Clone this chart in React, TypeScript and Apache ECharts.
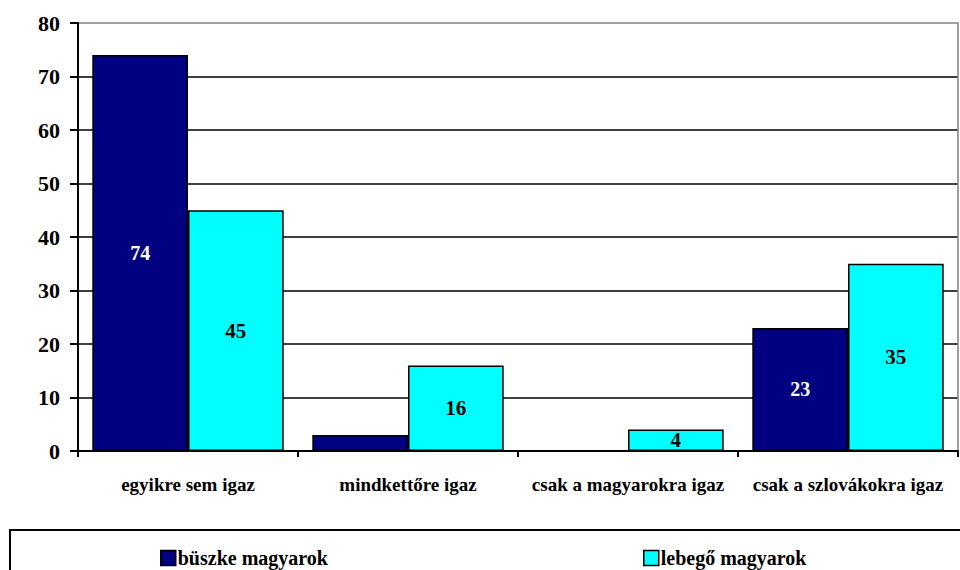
import React, { useEffect, useRef } from "react";
import * as echarts from "echarts";

const categories = ["egyikre sem igaz", "mindkettőre igaz", "csak a magyarokra igaz", "csak a szlovákokra igaz"];
const seriesNames = ["büszke magyarok", "lebegő magyarok"];
const buszke = [74, 3, 0, 23];
const lebego = [45, 16, 4, 35];
const yTicks = [0, 10, 20, 30, 40, 50, 60, 70, 80];

const FONT = "Liberation Serif, Times New Roman, serif";

export default function App() {
  const ref = useRef<HTMLDivElement>(null);
  useEffect(() => {
    if (!ref.current) return;
    const chart = echarts.init(ref.current, undefined, { renderer: "svg" });
    const gridColors = yTicks.map((t, i) => (i === yTicks.length - 1 ? "#808080" : "#000000"));
    const legendBase = {
      top: 543,
      itemWidth: 15,
      itemHeight: 15,
      itemGap: 4,
      icon: "rect",
      itemStyle: { borderColor: "#000", borderWidth: 1.5 },
      textStyle: { color: "#000", fontWeight: "bold", fontSize: 20, fontFamily: FONT, padding: [0, 0, 0, -3] },
    };
    chart.setOption({
      animation: false,
      backgroundColor: "#ffffff",
      textStyle: { fontFamily: FONT },
      grid: { left: 78, right: 2, top: 23, bottom: 119, containLabel: false },
      xAxis: {
        type: "category",
        data: categories,
        axisLine: { lineStyle: { color: "#000", width: 2 } },
        axisTick: { show: true, length: 6, lineStyle: { color: "#000", width: 2 } },
        axisLabel: { color: "#000", fontWeight: "bold", fontSize: 19, fontFamily: FONT, margin: 24, interval: 0 },
      },
      yAxis: [
        {
          type: "value",
          min: 0,
          max: 80,
          interval: 10,
          axisLine: { show: true, lineStyle: { color: "#000", width: 2 } },
          axisTick: { show: true, length: 8, lineStyle: { color: "#000", width: 2 } },
          axisLabel: { color: "#000", fontWeight: "bold", fontSize: 22, fontFamily: FONT, margin: 18 },
          splitLine: { show: true, lineStyle: { color: gridColors, width: 1.5 } },
        },
        {
          type: "value",
          min: 0,
          max: 80,
          interval: 10,
          position: "right",
          axisLine: { show: true, lineStyle: { color: "#808080", width: 1.5 } },
          axisTick: { show: false },
          axisLabel: { show: false },
          splitLine: { show: false },
        },
      ],
      legend: [
        { ...legendBase, data: [seriesNames[0]], left: 155 },
        { ...legendBase, data: [seriesNames[1]], left: 638 },
      ],
      graphic: [
        {
          type: "rect",
          shape: { x: 10, y: 530, width: 960, height: 60 },
          style: { fill: "none", stroke: "#000", lineWidth: 2 },
          z: -1,
        },
      ],
      series: [
        {
          name: seriesNames[0],
          type: "bar",
          data: buszke,
          barCategoryGap: "13%",
          barGap: "0%",
          itemStyle: { color: "#000080", borderColor: "#000", borderWidth: 1.5 },
          label: {
            show: true,
            position: "inside",
            color: "#fff",
            fontWeight: "bold",
            fontSize: 20,
            fontFamily: FONT,
            formatter: (p: any) => (p.value >= 4 ? String(p.value) : ""),
          },
        },
        {
          name: seriesNames[1],
          type: "bar",
          data: lebego,
          barCategoryGap: "13%",
          barGap: "0%",
          itemStyle: { color: "#00FFFF", borderColor: "#000", borderWidth: 1.5 },
          label: {
            show: true,
            position: "inside",
            color: "#000",
            fontWeight: "bold",
            fontSize: 21,
            fontFamily: FONT,
            formatter: (p: any) => (p.value >= 4 ? String(p.value) : ""),
          },
        },
      ],
    });
    return () => chart.dispose();
  }, []);
  return (
    <div
      ref={ref}
      style={{ position: "fixed", left: 0, top: 0, width: 960, height: 570, background: "#fff" }}
    />
  );
}
